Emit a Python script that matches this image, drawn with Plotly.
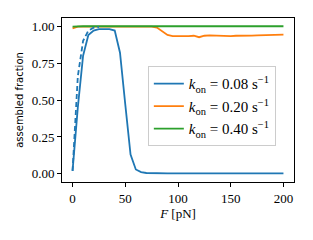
import plotly.graph_objects as go

F = list(range(0, 205, 5))

frac_008 = [0.02, 0.45, 0.80, 0.94, 0.97, 0.98, 0.98, 0.98, 0.97, 0.82, 0.47,
            0.13, 0.03, 0.012, 0.006, 0.004] + [0.003] * 25
frac_008_dashed_F = [0, 5, 10, 15, 20, 25]
frac_008_dashed = [0.02, 0.66, 0.90, 0.97, 0.99, 0.995]
frac_020 = [0.985] + [0.997] * 15 + [0.99, 0.965, 0.94, 0.932, 0.93, 0.932, 0.933,
            0.935, 0.925, 0.935, 0.937, 0.935, 0.936, 0.935, 0.933, 0.935, 0.937,
            0.938, 0.936, 0.937, 0.938, 0.94, 0.94, 0.941, 0.942]
frac_040 = [0.996] + [0.999] * 40

names = ["<i>k</i><sub>on</sub> = 0.08 s<sup>−1</sup>",
         "<i>k</i><sub>on</sub> = 0.20 s<sup>−1</sup>",
         "<i>k</i><sub>on</sub> = 0.40 s<sup>−1</sup>"]
colors = ["#1f77b4", "#ff7f0e", "#2ca02c"]
x_ticks = [0, 50, 100, 150, 200]
y_ticks = [0, 0.25, 0.5, 0.75, 1.0]
y_ticklabels = ["0.00", "0.25", "0.50", "0.75", "1.00"]

fig = go.Figure()
for y, n, c in zip([frac_008, frac_020, frac_040], names, colors):
    fig.add_trace(go.Scatter(x=F, y=y, mode="lines", name=n,
                             line=dict(color=c, width=1.8)))
fig.add_trace(go.Scatter(x=frac_008_dashed_F, y=frac_008_dashed, mode="lines",
                         showlegend=False,
                         line=dict(color=colors[0], width=1.8, dash="5px,3px")))

serif = "Liberation Serif"

fig.update_layout(
    width=305, height=232,
    margin=dict(l=54, r=19, t=10, b=58, pad=0),
    plot_bgcolor="white", paper_bgcolor="white",
    xaxis=dict(range=[-10, 210], tickvals=x_ticks,
               showline=True, linecolor="black", linewidth=1, mirror=True,
               ticks="outside", ticklen=4, tickcolor="black", tickwidth=1,
               showgrid=False, zeroline=False,
               tickfont=dict(family=serif, size=13, color="black"),
               title=dict(text="<i>F</i> [pN]",
                          font=dict(family=serif, size=13, color="black"), standoff=4)),
    yaxis=dict(range=[-0.055, 1.055], tickvals=y_ticks, ticktext=y_ticklabels,
               showline=True, linecolor="black", linewidth=1, mirror=True,
               ticks="outside", ticklen=4, tickcolor="black", tickwidth=1,
               showgrid=False, zeroline=False,
               tickfont=dict(family=serif, size=13, color="black"),
               title=dict(text="assembled fraction",
                          font=dict(family="DejaVu Sans", size=10, color="black"), standoff=6)),
    legend=dict(x=0.37, y=0.705, xanchor="left", yanchor="top",
                bgcolor="rgba(255,255,255,0.8)", bordercolor="#cccccc",
                borderwidth=1,
                font=dict(family=serif, size=15, color="black")),
)
fig.write_html("out.html")
